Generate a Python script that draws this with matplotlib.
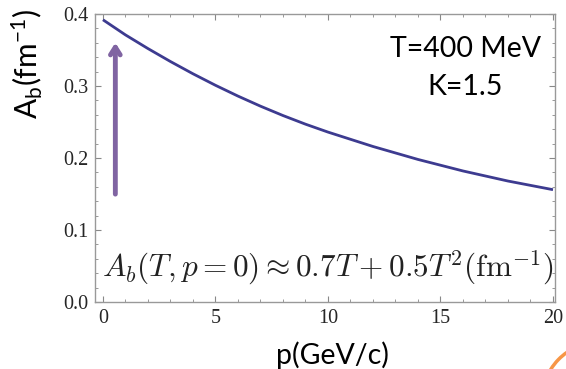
import matplotlib
matplotlib.use("Agg")
import matplotlib.pyplot as plt
from matplotlib.patches import Arc
from matplotlib.ticker import MultipleLocator

# values
p_values = list(range(0, 21))
ab_values = [0.392, 0.371, 0.352, 0.334, 0.317, 0.301, 0.286, 0.272, 0.259, 0.247,
             0.236, 0.226, 0.216, 0.207, 0.198, 0.190, 0.182, 0.175, 0.168, 0.162, 0.156]
x_ticks = [0, 5, 10, 15, 20]
y_ticks = [0.0, 0.1, 0.2, 0.3, 0.4]
arrow_x = 0.55
arrow_y = (0.146, 0.364)

plt.rcParams["mathtext.fontset"] = "custom"
plt.rcParams["mathtext.rm"] = "Lato"
plt.rcParams["mathtext.it"] = "Lato:italic"

fig = plt.figure(figsize=(5.66, 3.69), dpi=100)
ax = fig.add_axes([0.168, 0.1816, 0.813, 0.7804])

ax.plot(p_values, ab_values, color="#3d3b90", lw=2.0, solid_capstyle="butt")

ax.set_xlim(-0.35, 20.1)
ax.set_ylim(0, 0.4)
ax.set_xticks(x_ticks)
ax.set_yticks(y_ticks)
ax.set_yticklabels([f"{v:.1f}" for v in y_ticks])
ax.xaxis.set_minor_locator(MultipleLocator(1))
ax.yaxis.set_minor_locator(MultipleLocator(0.02))
ax.tick_params(which="both", direction="in", top=True, right=True,
               color="#888888", labelcolor="#262626")
ax.tick_params(which="major", length=4, width=0.8, pad=5)
ax.tick_params(which="minor", length=2, width=0.6)
for lab in ax.get_xticklabels() + ax.get_yticklabels():
    lab.set_family("Liberation Serif")
    lab.set_fontsize(14.5)
for s in ax.spines.values():
    s.set_color("#999999")
    s.set_linewidth(1.0)

ax.annotate("", xy=(arrow_x, arrow_y[1]), xytext=(arrow_x, arrow_y[0]),
            arrowprops=dict(arrowstyle="->,head_length=0.55,head_width=0.35",
                            color="#8064a2", lw=3.5))

ax.text(0.805, 0.88, "T=400 MeV", transform=ax.transAxes, ha="center", va="center",
        family="Lato", fontsize=20.5, color="black")
ax.text(0.805, 0.745, "K=1.5", transform=ax.transAxes, ha="center", va="center",
        family="Lato", fontsize=20.5, color="black")
ax.text(0.505, 0.118, r"$A_b(T,p=0)\approx 0.7T+0.5T^2(\mathrm{fm}^{-1})$",
        transform=ax.transAxes, ha="center", va="center", fontsize=22.5,
        color="#222222", math_fontfamily="cm")

fig.text(27 / 566, 1 - 64 / 369, r"A$_\mathrm{b}$(fm$^\mathrm{-1}$)", rotation=90,
         ha="center", va="center", family="Lato", fontsize=21.5)
fig.text(332 / 566, 1 - 355 / 369, "p(GeV/c)", ha="center", va="center",
         family="Lato", fontsize=20.5)

fig.add_artist(Arc((6.0, -0.31), 1.16, 1.16, theta1=112, theta2=160,
                   transform=fig.dpi_scale_trans, color="#f79646", lw=2.5))

fig.savefig("out.png", dpi=100)
